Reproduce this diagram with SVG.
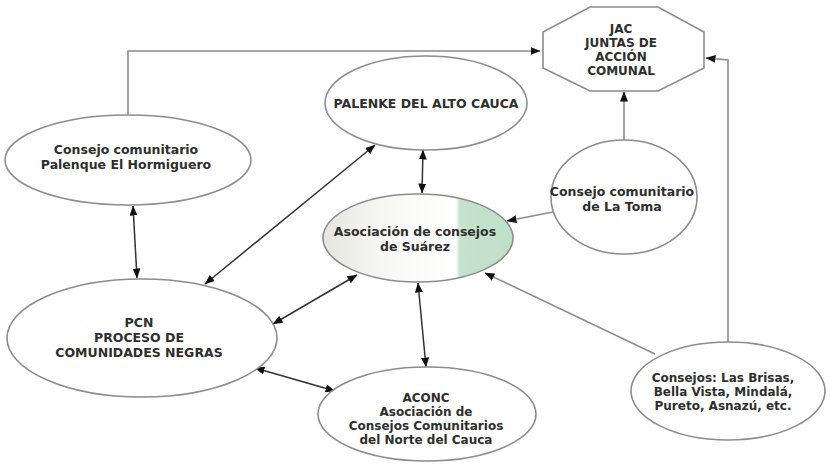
<svg xmlns="http://www.w3.org/2000/svg" width="830" height="473" viewBox="0 0 830 473">
<defs>
<style>
.node{fill:#ffffff;stroke:#8c8c8c;stroke-width:1.6}
.t{font-family:"DejaVu Sans","Open Sans",sans-serif;font-weight:bold;font-size:12.5px;fill:#2e2e2e;text-anchor:middle}
.s{font-size:12px}
.c{fill:none;stroke:#333333;stroke-width:1.5}
.g{fill:none;stroke:#8c8c8c;stroke-width:1.6}
</style>
<marker id="ah" viewBox="0 0 10 8" refX="9.5" refY="4" markerWidth="10" markerHeight="8" markerUnits="userSpaceOnUse" orient="auto-start-reverse">
<path d="M0,0 L10,4 L0,8 Z" fill="#111111"/>
</marker>
<linearGradient id="grad" x1="0" y1="0" x2="1" y2="0">
<stop offset="0" stop-color="#e6e6e0"/>
<stop offset="0.35" stop-color="#f8f8f5"/>
<stop offset="0.7" stop-color="#ffffff"/>
<stop offset="0.72" stop-color="#c4e2cc"/>
<stop offset="1" stop-color="#bfe0c8"/>
</linearGradient>
</defs>
<rect width="830" height="473" fill="#ffffff"/>
<g id="connectors">
<polyline class="g" points="128,115 128,51 540,51" marker-end="url(#ah)"/>
<line class="g" x1="624" y1="140" x2="624" y2="92" marker-end="url(#ah)"/>
<polyline class="g" points="728,342 728,60 706,58" marker-end="url(#ah)"/>
<line class="g" x1="553" y1="212" x2="507" y2="221" marker-end="url(#ah)"/>
<line class="g" x1="655" y1="354" x2="485" y2="273" marker-end="url(#ah)"/>
<line class="c" x1="133" y1="206" x2="137" y2="278" marker-start="url(#ah)" marker-end="url(#ah)"/>
<line class="c" x1="375" y1="145" x2="205" y2="284" marker-start="url(#ah)" marker-end="url(#ah)"/>
<line class="c" x1="357" y1="275" x2="273" y2="324" marker-start="url(#ah)" marker-end="url(#ah)"/>
<line class="c" x1="255" y1="368" x2="335" y2="391" marker-start="url(#ah)" marker-end="url(#ah)"/>
<line class="c" x1="423" y1="150" x2="422" y2="193" marker-start="url(#ah)" marker-end="url(#ah)"/>
<line class="c" x1="418" y1="283" x2="426" y2="367" marker-start="url(#ah)" marker-end="url(#ah)"/>
</g>
<g id="jac">
<polygon class="node" points="590,7 658,7 704,32 704,68 658,91 590,91 543,68 543,32"/>
<text class="t s" x="621" y="33">JAC</text>
<text class="t s" x="621" y="47">JUNTAS DE</text>
<text class="t s" x="621" y="61">ACCIÓN</text>
<text class="t s" x="621" y="75">COMUNAL</text>
</g>
<g id="hormiguero">
<ellipse class="node" cx="128" cy="160" rx="123" ry="45"/>
<text class="t" x="126" y="154">Consejo comunitario</text>
<text class="t" x="126" y="169">Palenque El Hormiguero</text>
</g>
<g id="palenke">
<ellipse class="node" cx="426" cy="103" rx="101" ry="47"/>
<text class="t" x="426" y="108">PALENKE DEL ALTO CAUCA</text>
</g>
<g id="latoma">
<ellipse class="node" cx="624" cy="197" rx="73" ry="57"/>
<text class="t" x="622" y="196">Consejo comunitario</text>
<text class="t" x="622" y="211">de La Toma</text>
</g>
<g id="suarez">
<ellipse class="node" cx="418" cy="238" rx="95" ry="44" style="fill:url(#grad)"/>
<text class="t" x="415" y="236">Asociación de consejos</text>
<text class="t" x="415" y="251">de Suárez</text>
</g>
<g id="pcn">
<ellipse class="node" cx="142" cy="338" rx="135" ry="59"/>
<text class="t" x="139" y="327">PCN</text>
<text class="t" x="139" y="342">PROCESO DE</text>
<text class="t" x="139" y="357">COMUNIDADES NEGRAS</text>
</g>
<g id="aconc">
<ellipse class="node" cx="427" cy="414" rx="109" ry="47"/>
<text class="t s" x="426" y="402">ACONC</text>
<text class="t s" x="426" y="416">Asociación de</text>
<text class="t s" x="426" y="430">Consejos Comunitarios</text>
<text class="t s" x="426" y="444">del Norte del Cauca</text>
</g>
<g id="brisas">
<ellipse class="node" cx="728" cy="391" rx="97" ry="49"/>
<text class="t s" x="723" y="382">Consejos: Las Brisas,</text>
<text class="t s" x="723" y="396">Bella Vista, Mindalá,</text>
<text class="t s" x="723" y="410">Pureto, Asnazú, etc.</text>
</g>
</svg>
